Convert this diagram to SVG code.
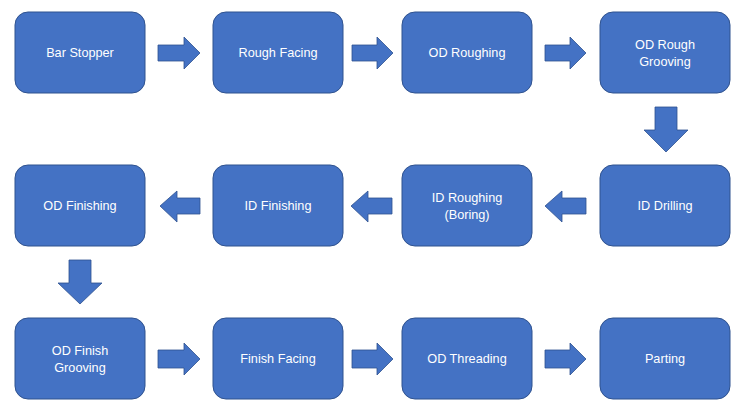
<svg xmlns="http://www.w3.org/2000/svg" width="747" height="410" viewBox="0 0 747 410">
<style>
.box{fill:#4472C4;stroke:#2F528F;stroke-width:1}
.arr{fill:#4472C4;stroke:#2F528F;stroke-width:0.8}
.t{font-family:"Liberation Sans",Arial,sans-serif;font-size:12.7px;fill:#FFFFFF;text-anchor:middle}
</style>
<rect width="747" height="410" fill="#FFFFFF"/>
<g id="n1"><rect class="box" x="15" y="12" width="130" height="81" rx="13"/><text class="t" x="80" y="57">Bar Stopper</text></g>
<g id="n2"><rect class="box" x="213" y="12" width="130" height="81" rx="13"/><text class="t" x="278" y="57">Rough Facing</text></g>
<g id="n3"><rect class="box" x="402" y="12" width="130" height="81" rx="13"/><text class="t" x="467" y="57">OD Roughing</text></g>
<g id="n4"><rect class="box" x="600" y="12" width="130" height="81" rx="13"/><text class="t" x="665" y="48.5">OD Rough</text><text class="t" x="665" y="65.5">Grooving</text></g>
<g id="n5"><rect class="box" x="600" y="165" width="130" height="81" rx="13"/><text class="t" x="665" y="210">ID Drilling</text></g>
<g id="n6"><rect class="box" x="402" y="165" width="130" height="81" rx="13"/><text class="t" x="467" y="201.5">ID Roughing</text><text class="t" x="467" y="218.5">(Boring)</text></g>
<g id="n7"><rect class="box" x="213" y="165" width="130" height="81" rx="13"/><text class="t" x="278" y="210">ID Finishing</text></g>
<g id="n8"><rect class="box" x="15" y="165" width="130" height="81" rx="13"/><text class="t" x="80" y="210">OD Finishing</text></g>
<g id="n9"><rect class="box" x="15" y="318" width="130" height="81" rx="13"/><text class="t" x="80" y="354.5">OD Finish</text><text class="t" x="80" y="371.5">Grooving</text></g>
<g id="n10"><rect class="box" x="213" y="318" width="130" height="81" rx="13"/><text class="t" x="278" y="363">Finish Facing</text></g>
<g id="n11"><rect class="box" x="402" y="318" width="130" height="81" rx="13"/><text class="t" x="467" y="363">OD Threading</text></g>
<g id="n12"><rect class="box" x="600" y="318" width="130" height="81" rx="13"/><text class="t" x="665" y="363">Parting</text></g>
<g id="connectors">
<polygon class="arr" points="158,45 184,45 184,37 200,53 184,69 184,61 158,61"/>
<polygon class="arr" points="352,45 377,45 377,37 393,53 377,69 377,61 352,61"/>
<polygon class="arr" points="545,45 570,45 570,37 586,53 570,69 570,61 545,61"/>
<polygon class="arr" points="655,107 677,107 677,130 688,130 666,152 644,130 655,130"/>
<polygon class="arr" points="586,198 562,198 562,191 545,206 562,222 562,214 586,214"/>
<polygon class="arr" points="392,198 368,198 368,191 351,206 368,222 368,214 392,214"/>
<polygon class="arr" points="200,198 177,198 177,191 160,206 177,222 177,214 200,214"/>
<polygon class="arr" points="69,260 91,260 91,283 102,283 80,304 58,283 69,283"/>
<polygon class="arr" points="158,350 184,350 184,343 200,359 184,375 184,368 158,368"/>
<polygon class="arr" points="352,350 377,350 377,343 393,359 377,375 377,368 352,368"/>
<polygon class="arr" points="545,350 570,350 570,343 586,359 570,375 570,368 545,368"/>
</g>
</svg>
